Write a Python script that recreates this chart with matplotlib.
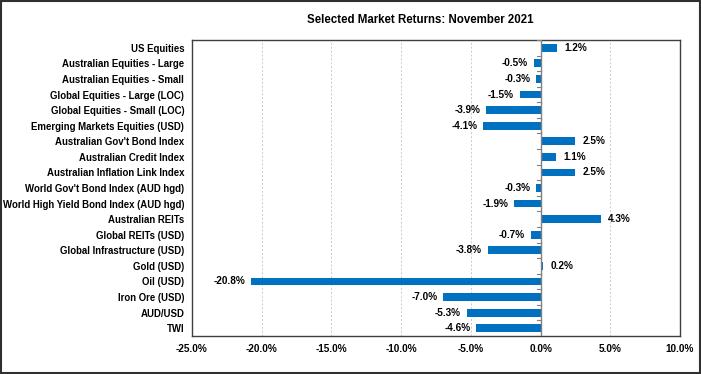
import matplotlib.pyplot as plt
import numpy as np

categories = [
    "US Equities",
    "Australian Equities - Large",
    "Australian Equities - Small",
    "Global Equities - Large (LOC)",
    "Global Equities - Small (LOC)",
    "Emerging Markets Equities (USD)",
    "Australian Gov't Bond Index",
    "Australian Credit Index",
    "Australian Inflation Link Index",
    "World Gov't Bond Index (AUD hgd)",
    "World High Yield Bond Index (AUD hgd)",
    "Australian REITs",
    "Global REITs (USD)",
    "Global Infrastructure (USD)",
    "Gold (USD)",
    "Oil (USD)",
    "Iron Ore (USD)",
    "AUD/USD",
    "TWI",
]
returns = [1.2, -0.5, -0.3, -1.5, -3.9, -4.1, 2.5, 1.1, 2.5, -0.3, -1.9,
           4.3, -0.7, -3.8, 0.2, -20.8, -7.0, -5.3, -4.6]
xticks = [-25, -20, -15, -10, -5, 0, 5, 10]

plt.rcParams['font.family'] = ['Liberation Sans', 'DejaVu Sans']
plt.rcParams['font.weight'] = 'bold'

fig = plt.figure(figsize=(7.01, 3.74), dpi=100)
ax = fig.add_axes([192 / 701, 1 - 336 / 374, (680 - 192) / 701, (336 - 40) / 374])

y = np.arange(len(categories))
ax.barh(y, returns, height=0.5, color='#0070C0', zorder=3)

for yi, v in zip(y, returns):
    if v >= 0:
        ax.text(v + 0.5, yi, f"{v:.1f}%", va='center', ha='left', fontsize=7.2,
                fontweight='bold')
    else:
        ax.text(v - 0.4, yi, f"{v:.1f}%", va='center', ha='right', fontsize=7.2,
                fontweight='bold')

ax.set_xlim(-25, 10)
ax.set_ylim(len(categories) - 0.5, -0.5)
ax.set_xticks(xticks)
ax.set_xticklabels([f"{t:.1f}%" for t in xticks], fontsize=7.2, fontweight='bold')
ax.set_yticks(y)
ax.set_yticklabels(categories, fontsize=6.9, fontweight='bold')
ax.tick_params(axis='y', length=0, pad=5.5)
ax.tick_params(axis='x', length=0, pad=6)

ax.grid(axis='x', linestyle=(0, (2, 2)), color='#c8c8c8', linewidth=0.7, zorder=0)

# zero line with category tick marks
ax.axvline(0, color='#808080', linewidth=1, zorder=4)
for b in np.arange(-0.5, len(categories) + 0.5, 1):
    ax.plot([-0.25, 0], [b, b], color='#808080', linewidth=0.8, zorder=4)

for s in ax.spines.values():
    s.set_color('#404040')
    s.set_linewidth(1)

fig.text(420 / 701, 1 - 20 / 374, "Selected Market Returns: November 2021",
         ha='center', va='center', fontsize=8.3, fontweight='bold')

# outer frame
fig.patches.append(plt.Rectangle((0.002, 0.003), 0.996, 0.994, transform=fig.transFigure,
                                 fill=False, edgecolor='#303030', linewidth=1.5))

fig.savefig('out.png', dpi=100)
